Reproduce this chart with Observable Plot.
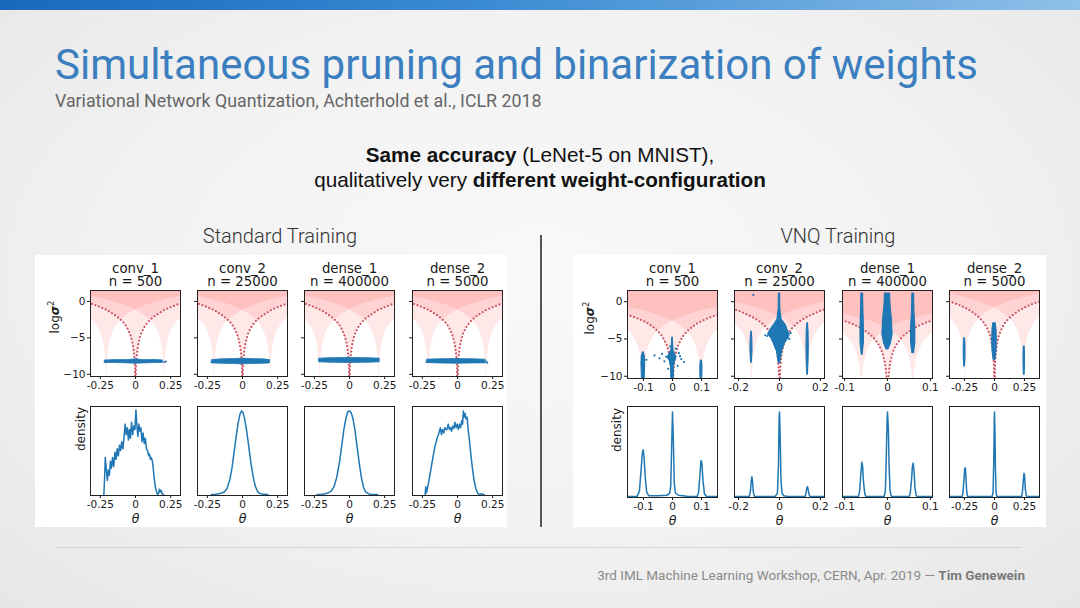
<!DOCTYPE html>
<html><head><meta charset="utf-8">
<script src="https://cdn.jsdelivr.net/npm/d3@7"></script>
<script src="https://cdn.jsdelivr.net/npm/@observablehq/plot@0.6"></script>
<style>
body{margin:0;}
#slide{position:relative;width:1080px;height:608px;overflow:hidden;
  background:radial-gradient(ellipse 70% 75% at 50% 45%, #f9f9f9 0%, #f2f2f2 55%, #e7e7e7 100%);
  font-family:Roboto, sans-serif;}
.abs{position:absolute;}
#topbar{left:0;top:0;width:1080px;height:10px;background:linear-gradient(to right,#1a68bd 0%,#3b8bd3 45%,#8fc0e8 100%);}
#title{left:55px;top:44px;font-size:42px;line-height:42px;color:#3b7fc0;white-space:nowrap;}
#subtitle{left:55px;top:91px;font-size:17.8px;line-height:20px;color:#666;white-space:nowrap;}
#statement{left:0;width:1080px;top:142px;text-align:center;font-family:"Liberation Sans",Arial,sans-serif;font-size:20.7px;line-height:25px;color:#111;}
.figbg{background:#fff;}
.heading{font-size:20px;font-weight:300;color:#333;text-align:center;white-space:nowrap;}
#divider{left:540px;top:235px;width:2px;height:292px;background:#555;}
#footline{left:57px;top:547px;width:965px;height:1px;background:#d2d2d2;}
#footer{right:55px;top:567px;font-size:13.5px;color:#8a8a8a;white-space:nowrap;}
#footer b{color:#7a7a7a;font-weight:700;}
.panel{position:absolute;}
</style></head>
<body><div id="slide">
<div id="topbar" class="abs"></div>
<div id="title" class="abs">Simultaneous pruning and binarization of weights</div>
<div id="subtitle" class="abs">Variational Network Quantization, Achterhold et al., ICLR 2018</div>
<div id="statement" class="abs"><b>Same accuracy</b> (LeNet-5 on MNIST),<br>qualitatively very <b>different weight-configuration</b></div>
<div class="abs figbg" style="left:35px;top:255px;width:472px;height:272px;"></div>
<div class="abs figbg" style="left:573px;top:255px;width:473px;height:272px;"></div>
<div class="abs heading" style="left:180px;width:200px;top:224px;">Standard Training</div>
<div class="abs heading" style="left:738px;width:200px;top:224px;">VNQ Training</div>
<div id="divider" class="abs"></div>
<div id="footline" class="abs"></div>
<div id="footer" class="abs">3rd IML Machine Learning Workshop, CERN, Apr. 2019 — <b>Tim Genewein</b></div>
</div>
<script>
// ---------------- data ----------------
const LAYERS = ["conv_1", "conv_2", "dense_1", "dense_2"];
const WEIGHT_COUNTS = ["500", "25000", "400000", "5000"];
const GROUPS = ["Standard Training", "VNQ Training"];

const STD_XLIM = [0.32, 0.32, 0.32, 0.32];
const VNQ_XLIM = [0.155, 0.22, 0.105, 0.375];
const STD_XTICKS = [[-0.25, 0, 0.25], [-0.25, 0, 0.25], [-0.25, 0, 0.25], [-0.25, 0, 0.25]];
const VNQ_XTICKS = [[-0.1, 0, 0.1], [-0.2, 0, 0.2], [-0.1, 0, 0.1], [-0.25, 0, 0.25]];
const LOGVAR_TICKS = [0, -5, -10];
const LOGVAR_RANGE = [-10.3, 1.5];
const DENSITY_RANGE = [-0.01, 1];

// codebook values (centres of the shaded regions)
const STD_CODEBOOK = [[-0.205, 0, 0.205], [-0.2, 0, 0.2], [-0.21, 0, 0.21], [-0.205, 0, 0.205]];
const VNQ_CODEBOOK = [[-0.1, 0, 0.1], [-0.135, 0, 0.135], [-0.06, 0, 0.06], [-0.245, 0, 0.245]];

// threshold curve: [distance from codebook value, log sigma^2]
const THRESHOLD_CURVE = [
  [0, -40], [0.0005, -13.2], [0.001, -11.8], [0.002, -10.4], [0.003, -9.6], [0.005, -8.6],
  [0.0075, -7.8], [0.01, -7.2], [0.015, -6.4], [0.02, -5.8], [0.03, -5.0], [0.04, -4.4],
  [0.05, -4.0], [0.06, -3.6], [0.07, -3.3], [0.085, -2.9], [0.1, -2.6], [0.12, -2.25],
  [0.14, -1.95], [0.16, -1.7], [0.18, -1.45], [0.2, -1.2], [0.23, -0.95], [0.26, -0.7],
  [0.3, -0.4], [0.35, -0.1], [0.4, 0.15], [0.45, 0.4], [0.5, 0.6], [0.6, 1.0], [0.7, 1.3], [0.8, 1.55]
];

// standard training: weights lie in a thin horizontal band [theta, low, high]
const STD_BANDS = [
  [[-0.215, -8.45, -8.1], [-0.15, -8.45, -8.05], [-0.05, -8.5, -8.05], [0, -8.55, -7.95], [0.05, -8.5, -8.05], [0.15, -8.45, -8.05], [0.195, -8.45, -8.1]],
  [[-0.215, -8.5, -8.05], [-0.15, -8.55, -7.95], [-0.05, -8.6, -7.9], [0, -8.65, -7.85], [0.05, -8.6, -7.9], [0.15, -8.55, -7.95], [0.195, -8.5, -8.05]],
  [[-0.215, -8.35, -7.85], [-0.15, -8.4, -7.8], [0, -8.45, -7.75], [0.15, -8.4, -7.8], [0.215, -8.35, -7.85]],
  [[-0.215, -8.45, -8.0], [-0.15, -8.5, -7.95], [0, -8.55, -7.9], [0.12, -8.5, -7.95], [0.2, -8.5, -8.0]]
];
const STD_STRAYS = [
  [[0.205, -8.3], [0.215, -8.25], [-0.22, -8.3]],
  [[-0.22, -8.3]],
  [],
  [[0.205, -8.25], [0.212, -8.4], [-0.22, -8.3]]
];

// VNQ: vertical clusters [log sigma^2, left theta, right theta]
const VNQ_CLUSTERS = [
  [
    [[-6.8, -0.102, -0.099], [-7.4, -0.106, -0.095], [-8.4, -0.107, -0.094], [-9.4, -0.106, -0.095], [-10.5, -0.105, -0.096]],
    [[-4.8, -0.001, 0.001], [-5.8, -0.002, 0.002], [-6.6, -0.004, 0.004], [-7.0, -0.011, 0.009], [-7.5, -0.016, 0.014], [-8.0, -0.009, 0.009], [-8.8, -0.005, 0.005], [-10.5, -0.004, 0.004]],
    [[-7.9, 0.098, 0.101], [-8.6, 0.096, 0.103], [-9.6, 0.096, 0.103], [-10.5, 0.097, 0.102]]
  ],
  [
    [[-4.0, -0.138, -0.136], [-5.0, -0.141, -0.133], [-6.5, -0.142, -0.132], [-7.6, -0.14, -0.134], [-8.2, -0.138, -0.136]],
    [[1.1, -0.003, 0.003], [-1.0, -0.004, 0.004], [-2.4, -0.01, 0.01], [-3.1, -0.026, 0.03], [-3.7, -0.042, 0.038], [-4.4, -0.056, 0.05], [-4.9, -0.04, 0.044], [-5.5, -0.03, 0.028], [-6.7, -0.012, 0.012], [-8.2, -0.004, 0.004]],
    [[-2.9, 0.136, 0.139], [-4.0, 0.133, 0.142], [-6.0, 0.132, 0.143], [-8.0, 0.133, 0.142], [-9.8, 0.136, 0.139]]
  ],
  [
    [[1.1, -0.061, -0.057], [-1.5, -0.062, -0.056], [-3.5, -0.063, -0.055], [-5.5, -0.063, -0.055], [-7.1, -0.06, -0.058]],
    [[1.1, -0.006, 0.006], [-0.45, -0.007, 0.007], [-2.2, -0.01, 0.01], [-4.4, -0.012, 0.012], [-5.6, -0.008, 0.008], [-6.4, -0.002, 0.002]],
    [[1.1, 0.058, 0.062], [-1.5, 0.057, 0.063], [-3.5, 0.055, 0.065], [-5.5, 0.055, 0.065], [-6.9, 0.058, 0.062]]
  ],
  [
    [[-4.9, -0.252, -0.246], [-6.0, -0.256, -0.242], [-7.5, -0.256, -0.242], [-8.7, -0.252, -0.246]],
    [[-2.9, -0.01, 0.01], [-3.8, -0.017, 0.017], [-5.0, -0.019, 0.019], [-6.5, -0.017, 0.017], [-7.8, -0.007, 0.007]],
    [[-6.0, 0.245, 0.251], [-7.0, 0.242, 0.254], [-8.5, 0.242, 0.254], [-9.8, 0.245, 0.251]]
  ]
];
const VNQ_STRAYS = [
  [[-0.062, -7.2], [-0.036, -7.0], [-0.028, -8.0], [0.022, -6.9], [0.03, -7.7], [0.018, -8.6], [-0.015, -9.0], [-0.09, -7.8], [0.026, -7.3], [-0.022, -7.4], [0.012, -6.3], [-0.008, -6.0], [0.04, -8.1], [-0.045, -7.6]],
  [[-0.128, 0.9], [-0.06, -4.6], [0.055, -4.2], [-0.045, -3.9], [-0.07, -4.5], [0.048, -5.0]],
  [],
  []
];

// weight densities [theta, density (fraction of panel height)]
const STD_DENSITY = [
  [[-0.225, 0], [-0.219, 0.22], [-0.215, 0.42], [-0.208, 0.3], [-0.2, 0.16], [-0.193, 0.28], [-0.186, 0.22], [-0.178, 0.38], [-0.171, 0.3], [-0.163, 0.42], [-0.155, 0.32], [-0.146, 0.48], [-0.138, 0.4], [-0.13, 0.52], [-0.122, 0.44], [-0.114, 0.56], [-0.106, 0.5], [-0.098, 0.6], [-0.09, 0.52], [-0.082, 0.64], [-0.074, 0.8], [-0.066, 0.68], [-0.058, 0.76], [-0.05, 0.62], [-0.043, 0.74], [-0.036, 0.64], [-0.028, 0.82], [-0.02, 0.68], [-0.012, 0.78], [-0.004, 0.74], [0.003, 0.96], [0.01, 0.78], [0.017, 0.66], [0.024, 0.8], [0.031, 0.72], [0.038, 0.76], [0.046, 0.6], [0.054, 0.7], [0.062, 0.58], [0.07, 0.64], [0.078, 0.52], [0.086, 0.5], [0.094, 0.44], [0.1, 0.46], [0.106, 0.4], [0.112, 0.42], [0.12, 0.38], [0.126, 0.3], [0.132, 0.2], [0.138, 0.12], [0.145, 0.06], [0.152, 0.02], [0.158, 0.0], [0.165, 0.02], [0.17, 0.06], [0.175, 0.03], [0.182, 0.05], [0.19, 0.01], [0.2, 0.0]],
  [[-0.22, 0], [-0.19, 0.005], [-0.16, 0.012], [-0.13, 0.03], [-0.11, 0.07], [-0.09, 0.17], [-0.075, 0.3], [-0.06, 0.48], [-0.045, 0.66], [-0.03, 0.82], [-0.018, 0.91], [-0.006, 0.95], [0.004, 0.93], [0.015, 0.86], [0.03, 0.72], [0.045, 0.54], [0.06, 0.36], [0.075, 0.21], [0.09, 0.1], [0.105, 0.04], [0.12, 0.015], [0.15, 0.003], [0.18, 0]],
  [[-0.23, 0], [-0.19, 0.005], [-0.16, 0.015], [-0.13, 0.04], [-0.11, 0.09], [-0.09, 0.2], [-0.07, 0.38], [-0.055, 0.56], [-0.04, 0.74], [-0.025, 0.87], [-0.012, 0.94], [0, 0.95], [0.012, 0.93], [0.025, 0.86], [0.04, 0.72], [0.055, 0.53], [0.07, 0.35], [0.085, 0.19], [0.1, 0.08], [0.115, 0.03], [0.135, 0.01], [0.16, 0.0], [0.2, 0]],
  [[-0.23, 0], [-0.226, 0.09], [-0.221, 0.02], [-0.215, 0.06], [-0.205, 0.14], [-0.19, 0.28], [-0.175, 0.42], [-0.16, 0.55], [-0.145, 0.64], [-0.132, 0.7], [-0.122, 0.76], [-0.114, 0.68], [-0.106, 0.74], [-0.098, 0.7], [-0.09, 0.76], [-0.082, 0.74], [-0.074, 0.74], [-0.066, 0.8], [-0.058, 0.74], [-0.05, 0.76], [-0.042, 0.72], [-0.034, 0.78], [-0.026, 0.75], [-0.018, 0.82], [-0.01, 0.76], [-0.002, 0.8], [0.006, 0.74], [0.014, 0.8], [0.022, 0.76], [0.03, 0.84], [0.036, 0.8], [0.042, 0.95], [0.048, 0.88], [0.054, 0.92], [0.06, 0.86], [0.068, 0.88], [0.076, 0.74], [0.086, 0.6], [0.096, 0.44], [0.106, 0.3], [0.118, 0.16], [0.13, 0.07], [0.142, 0.02], [0.155, 0.0], [0.17, 0.01], [0.19, 0.0]]
];
const VNQ_DENSITY = [
  [[-0.155, 0], [-0.122, 0], [-0.114, 0.06], [-0.108, 0.3], [-0.104, 0.48], [-0.101, 0.52], [-0.098, 0.44], [-0.094, 0.22], [-0.089, 0.05], [-0.082, 0.01], [-0.05, 0.01], [-0.02, 0.015], [-0.01, 0.035], [-0.006, 0.12], [-0.003, 0.55], [0, 0.94], [0.003, 0.62], [0.006, 0.15], [0.01, 0.04], [0.02, 0.015], [0.05, 0.005], [0.085, 0.0], [0.09, 0.05], [0.094, 0.22], [0.098, 0.4], [0.101, 0.38], [0.105, 0.18], [0.11, 0.03], [0.118, 0], [0.155, 0]],
  [[-0.22, 0], [-0.148, 0], [-0.142, 0.06], [-0.138, 0.18], [-0.135, 0.22], [-0.132, 0.17], [-0.128, 0.05], [-0.122, 0], [-0.02, 0.005], [-0.01, 0.04], [-0.005, 0.35], [-0.002, 0.85], [0, 0.94], [0.003, 0.7], [0.007, 0.2], [0.012, 0.04], [0.02, 0.01], [0.04, 0.0], [0.125, 0], [0.13, 0.04], [0.134, 0.1], [0.137, 0.11], [0.14, 0.08], [0.145, 0.02], [0.15, 0], [0.22, 0]],
  [[-0.105, 0], [-0.068, 0], [-0.065, 0.06], [-0.062, 0.26], [-0.06, 0.38], [-0.058, 0.34], [-0.056, 0.16], [-0.053, 0.03], [-0.05, 0], [-0.008, 0], [-0.005, 0.06], [-0.003, 0.4], [-0.001, 0.85], [0, 0.94], [0.002, 0.75], [0.004, 0.3], [0.006, 0.06], [0.009, 0.005], [0.05, 0], [0.053, 0.03], [0.056, 0.18], [0.058, 0.33], [0.06, 0.37], [0.062, 0.28], [0.064, 0.1], [0.067, 0.01], [0.07, 0], [0.105, 0]],
  [[-0.375, 0], [-0.27, 0], [-0.262, 0.05], [-0.254, 0.2], [-0.248, 0.31], [-0.243, 0.32], [-0.238, 0.22], [-0.232, 0.06], [-0.225, 0], [-0.02, 0], [-0.012, 0.05], [-0.006, 0.4], [-0.002, 0.85], [0, 0.94], [0.004, 0.7], [0.008, 0.3], [0.013, 0.05], [0.02, 0], [0.225, 0], [0.232, 0.04], [0.24, 0.18], [0.246, 0.26], [0.251, 0.22], [0.257, 0.08], [0.265, 0.01], [0.272, 0], [0.375, 0]]
];

// ---------------- layout & style ----------------
const BLUE = "#1f77b4";
const SHADE = "#ff2a2a";
const DOTTED = "#cd5360";
const PANEL_W = 90;
const LAYOUT = {
  std: {lefts: [90, 197, 304, 412], scatterTop: 290, scatterH: 86, densTop: 406, densH: 89, ylabDx: -35, densDx: -9},
  vnq: {lefts: [627, 734, 842, 949], scatterTop: 290, scatterH: 88, densTop: 406, densH: 91, ylabDx: -37, densDx: -10}
};
const ML = 52, MR = 8, MT = 36, MB = 22, DMB = 36;
const xFmt = d => d === 0 ? "0" : String(d);
const yFmt = d => d < 0 ? "\u2212" + Math.abs(d) : String(d);

function regionRows(c) {
  const top = LOGVAR_RANGE[1] + 5;
  const left = THRESHOLD_CURVE.slice().reverse().map(([d, v]) => ({x: c - d, y: v, top}));
  const right = THRESHOLD_CURVE.slice(1).map(([d, v]) => ({x: c + d, y: v, top}));
  return left.concat(right);
}

const slide = document.getElementById("slide");
function place(svg, left, top, w, h) {
  const div = document.createElement("div");
  div.className = "panel";
  div.style.left = left + "px"; div.style.top = top + "px";
  div.style.width = w + "px"; div.style.height = h + "px";
  div.appendChild(svg);
  slide.appendChild(div);
}
const baseStyle = {background: "transparent", fontFamily: "'DejaVu Sans', sans-serif", fontSize: "10.5px", color: "#1a1a1a", overflow: "visible", maxWidth: "none"};

function scatterPanel(group, i) {
  const L = LAYOUT[group];
  const xl = group === "std" ? STD_XLIM[i] : VNQ_XLIM[i];
  const ticks = group === "std" ? STD_XTICKS[i] : VNQ_XTICKS[i];
  const codebook = group === "std" ? STD_CODEBOOK[i] : VNQ_CODEBOOK[i];
  const first = i === 0;
  const W = ML + PANEL_W + MR, H = MT + L.scatterH + MB;
  const marks = [];
  for (const c of codebook) {
    marks.push(Plot.areaY(regionRows(c), {x: "x", y1: "y", y2: "top", fill: SHADE, fillOpacity: 0.11, clip: true}));
  }
  marks.push(Plot.line(regionRows(0), {x: "x", y: "y", stroke: DOTTED, strokeWidth: 2.1, strokeDasharray: "0.1,3.6", strokeLinecap: "round", clip: true}));
  if (group === "std") {
    marks.push(Plot.areaY(STD_BANDS[i], {x: d => d[0], y1: d => d[1], y2: d => d[2], fill: BLUE, stroke: BLUE, strokeWidth: 0.8, clip: true}));
    marks.push(Plot.dot(STD_STRAYS[i], {x: d => d[0], y: d => d[1], r: 1, fill: BLUE, clip: true}));
  } else {
    for (const cl of VNQ_CLUSTERS[i]) {
      marks.push(Plot.areaX(cl, {y: d => d[0], x1: d => d[1], x2: d => d[2], fill: BLUE, stroke: BLUE, strokeWidth: 1.1, clip: true}));
    }
    marks.push(Plot.dot(VNQ_STRAYS[i], {x: d => d[0], y: d => d[1], r: 1.1, fill: BLUE, clip: true}));
  }
  marks.push(Plot.frame({stroke: "#222", strokeWidth: 1}));
  marks.push(Plot.text([LAYERS[i]], {frameAnchor: "top", lineAnchor: "middle", dy: -22, text: d => d, fontSize: 13.3, fill: "#1a1a1a"}));
  marks.push(Plot.text(["n = " + WEIGHT_COUNTS[i]], {frameAnchor: "top", lineAnchor: "middle", dy: -8.5, text: d => d, fontSize: 13.3, fill: "#1a1a1a"}));
  if (first) marks.push(Plot.text(["logσ²"], {frameAnchor: "left", lineAnchor: "middle", dx: L.ylabDx, rotate: -90, text: d => d, fontSize: 12, fill: "#1a1a1a"}));
  const svg = Plot.plot({
    width: W, height: H, marginLeft: ML, marginRight: MR, marginTop: MT, marginBottom: MB,
    style: baseStyle,
    x: {domain: [-xl, xl], ticks, tickFormat: xFmt, tickSize: 3, tickPadding: 2, label: null},
    y: {domain: LOGVAR_RANGE, ticks: LOGVAR_TICKS, tickFormat: first ? yFmt : () => "", tickSize: 3, tickPadding: 2, label: null},
    marks
  });
  svg.querySelectorAll("text").forEach(t => {
    if (t.textContent === "logσ²") {
      t.innerHTML = 'log<tspan font-weight="bold" font-style="italic">σ</tspan><tspan font-size="8" dy="-5">2</tspan>';
    }
  });
  place(svg, L.lefts[i] - ML, L.scatterTop - MT, W, H);
}

function densityPanel(group, i) {
  const L = LAYOUT[group];
  const xl = group === "std" ? STD_XLIM[i] : VNQ_XLIM[i];
  const ticks = group === "std" ? STD_XTICKS[i] : VNQ_XTICKS[i];
  const data = group === "std" ? STD_DENSITY[i] : VNQ_DENSITY[i];
  const first = i === 0;
  const W = ML + PANEL_W + MR, H = 4 + L.densH + DMB;
  const marks = [
    Plot.line(data, {x: d => d[0], y: d => d[1], stroke: BLUE, strokeWidth: 1.5, clip: true}),
    Plot.frame({stroke: "#222", strokeWidth: 1}),
    Plot.text(["θ"], {frameAnchor: "bottom", lineAnchor: "middle", dy: 23, text: d => d, fontSize: 12.5, fontStyle: "italic", fill: "#1a1a1a"})
  ];
  if (first) marks.push(Plot.text(["density"], {frameAnchor: "left", lineAnchor: "middle", dx: L.densDx, rotate: -90, text: d => d, fontSize: 12, fill: "#1a1a1a"}));
  const svg = Plot.plot({
    width: W, height: H, marginLeft: ML, marginRight: MR, marginTop: 4, marginBottom: DMB,
    style: baseStyle,
    x: {domain: [-xl, xl], ticks, tickFormat: xFmt, tickSize: 3, tickPadding: 2, label: null},
    y: {domain: DENSITY_RANGE, axis: null},
    marks
  });
  place(svg, L.lefts[i] - ML, L.densTop - 4, W, H);
}

for (const g of ["std", "vnq"]) {
  for (let i = 0; i < LAYERS.length; i++) { scatterPanel(g, i); densityPanel(g, i); }
}
</script>
</body></html>
